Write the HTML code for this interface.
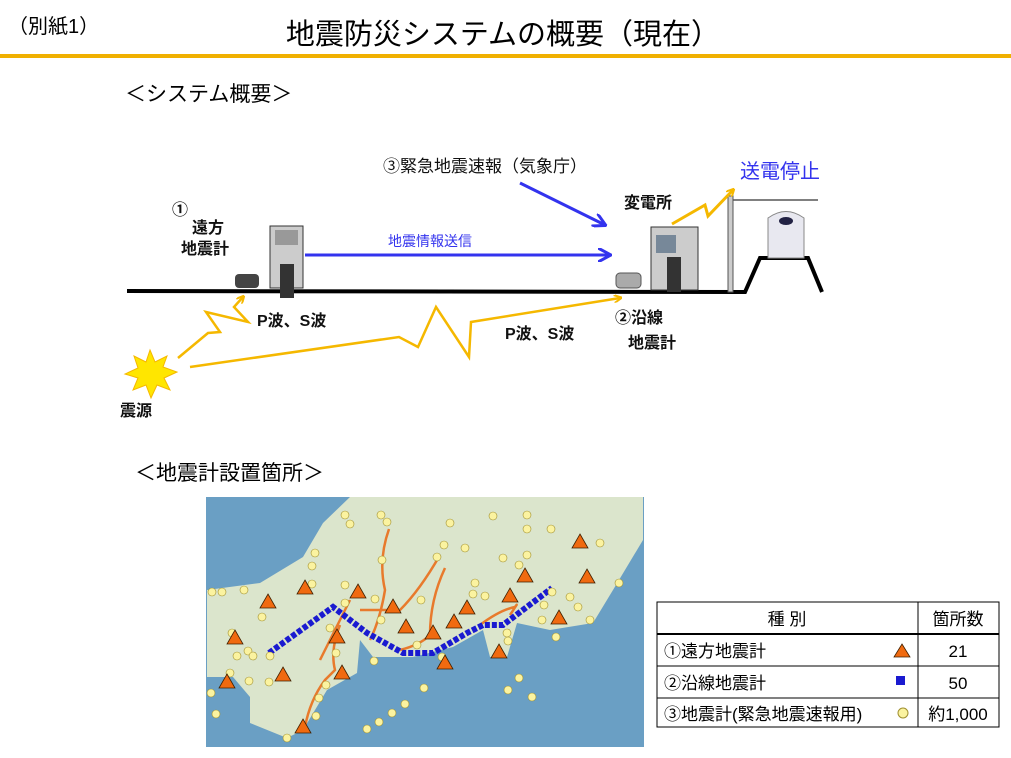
<!DOCTYPE html>
<html><head><meta charset="utf-8"><style>
body{margin:0;background:#fff;width:1011px;height:758px;overflow:hidden}
svg{position:absolute;left:0;top:0}
</style></head><body>
<svg width="1011" height="758" viewBox="0 0 1011 758" font-family="Liberation Sans, Noto Sans CJK JP, sans-serif">
<defs>
<marker id="ya" markerWidth="8" markerHeight="8" refX="6" refY="4" orient="auto" markerUnits="userSpaceOnUse"><path d="M0,0 L8,4 L0,8" fill="none" stroke="#f5b800" stroke-width="2"/></marker>
<marker id="ba" markerWidth="14" markerHeight="14" refX="12" refY="7" orient="auto" markerUnits="userSpaceOnUse"><path d="M0,0 L13,7 L0,14" fill="none" stroke="#3333ee" stroke-width="3"/></marker>
</defs>
<text x="8" y="33" font-size="20">（別紙1）</text>
<text x="503" y="44" font-size="29" text-anchor="middle">地震防災システムの概要（現在）</text>
<rect x="0" y="54" width="1011" height="4" fill="#f0b000"/>
<text x="125" y="101" font-size="21">＜システム概要＞</text>
<text x="135" y="480" font-size="21">＜地震計設置箇所＞</text>

<g font-size="16" font-weight="bold" fill="#111">
<text x="172" y="215">①</text>
<text x="192" y="233">遠方</text>
<text x="181" y="254">地震計</text>
<text x="257" y="326">P波、S波</text>
<text x="505" y="339">P波、S波</text>
<text x="615" y="323">②沿線</text>
<text x="628" y="348">地震計</text>
<text x="624" y="208">変電所</text>
<text x="120" y="416">震源</text>
<text x="383" y="172" font-weight="normal" font-size="17">③緊急地震速報（気象庁）</text>
</g>
<text x="388" y="246" font-size="14" fill="#3333ee">地震情報送信</text>
<text x="740" y="178" font-size="20" fill="#3333ee">送電停止</text>

<polyline points="127,291 745,292 760,258 808,258 822,292" fill="none" stroke="#000" stroke-width="4"/>
<line x1="733" y1="200" x2="818" y2="200" stroke="#000" stroke-width="1"/>
<rect x="728" y="196" width="5" height="96" fill="#ccc" stroke="#555"/>
<path d="M768,258 L768,218 Q786,205 804,218 L804,258 Z" fill="#e8e8f0" stroke="#888"/>
<ellipse cx="786" cy="221" rx="7" ry="4" fill="#224"/>
<rect x="270" y="226" width="33" height="62" fill="#ccc" stroke="#333"/>
<rect x="275" y="230" width="23" height="15" fill="#999"/>
<rect x="280" y="264" width="14" height="34" fill="#333"/>
<rect x="235" y="274" width="24" height="14" rx="4" fill="#444"/>
<rect x="651" y="227" width="47" height="63" fill="#ccc" stroke="#333"/>
<rect x="656" y="235" width="20" height="18" fill="#789"/>
<rect x="667" y="257" width="14" height="35" fill="#333"/>
<rect x="616" y="273" width="25" height="15" rx="4" fill="#aaa" stroke="#555"/>
<line x1="305" y1="255" x2="610" y2="255" stroke="#3333ee" stroke-width="3" marker-end="url(#ba)"/>
<line x1="520" y1="183" x2="605" y2="225" stroke="#3333ee" stroke-width="3" marker-end="url(#ba)"/>
<polyline points="178,358 208,333 220,332 206,312 248,322 234,307 243,297" fill="none" stroke="#f5b800" stroke-width="2.5" marker-end="url(#ya)"/>
<polyline points="190,367 399,337 418,347 436,307 469,357 471,322 620,298" fill="none" stroke="#f5b800" stroke-width="2.5" marker-end="url(#ya)"/>
<polyline points="672,224 705,205 708,216 733,190" fill="none" stroke="#f5b800" stroke-width="3" marker-end="url(#ya)"/>
<polygon points="150,350 155,362 167,356 163,367 177,372 164,378 170,390 157,385 151,398 146,385 133,390 138,378 125,374 138,368 134,356 146,362" fill="#ffe600" stroke="#f5b800"/>

<rect x="206" y="497" width="438" height="250" fill="#6a9fc4"/>
<polygon points="207,590 260,583 303,557 323,523 350,497 643,497 643,540 613,590 593,623 550,630 517,623 507,657 490,657 483,630 453,647 413,657 373,657 360,640 357,673 327,690 303,730 287,738 250,723 250,697 233,677 207,677" fill="#dbe5cc"/>
<g fill="none" stroke="#e87a2c" stroke-width="2.5">
<path d="M389,529 Q378,560 385,590 Q380,620 370,640"/>
<path d="M440,555 Q420,590 400,610 L360,610"/>
<path d="M445,568 Q430,600 430,635 Q420,645 400,650"/>
<path d="M340,625 Q330,650 335,670 L325,680 Q310,700 305,727"/>
<path d="M350,600 L330,640 L320,660"/>
<path d="M480,625 Q500,610 515,607 Q520,600 510,615"/>
</g>
<polyline points="269,653 333,607 367,633 403,653 433,653 467,633 483,625 503,625 552,588" fill="none" stroke="#1a1ad0" stroke-width="6" stroke-dasharray="5 2"/>
<g fill="#fbf3a0" stroke="#a09030" stroke-width="0.6">
<circle cx="345" cy="515" r="4"/><circle cx="381" cy="515" r="4"/><circle cx="387" cy="522" r="4"/><circle cx="350" cy="524" r="4"/><circle cx="450" cy="523" r="4"/><circle cx="493" cy="516" r="4"/><circle cx="527" cy="515" r="4"/><circle cx="527" cy="529" r="4"/><circle cx="551" cy="529" r="4"/><circle cx="600" cy="543" r="4"/><circle cx="315" cy="553" r="4"/><circle cx="312" cy="566" r="4"/><circle cx="382" cy="560" r="4"/><circle cx="444" cy="545" r="4"/><circle cx="465" cy="548" r="4"/><circle cx="437" cy="557" r="4"/><circle cx="503" cy="558" r="4"/><circle cx="527" cy="555" r="4"/><circle cx="519" cy="565" r="4"/><circle cx="212" cy="592" r="4"/><circle cx="222" cy="592" r="4"/><circle cx="244" cy="590" r="4"/><circle cx="312" cy="584" r="4"/><circle cx="345" cy="585" r="4"/><circle cx="375" cy="599" r="4"/><circle cx="421" cy="600" r="4"/><circle cx="475" cy="583" r="4"/><circle cx="473" cy="594" r="4"/><circle cx="485" cy="596" r="4"/><circle cx="552" cy="592" r="4"/><circle cx="570" cy="597" r="4"/><circle cx="619" cy="583" r="4"/><circle cx="262" cy="617" r="4"/><circle cx="345" cy="603" r="4"/><circle cx="381" cy="620" r="4"/><circle cx="330" cy="628" r="4"/><circle cx="544" cy="605" r="4"/><circle cx="578" cy="607" r="4"/><circle cx="542" cy="620" r="4"/><circle cx="590" cy="620" r="4"/><circle cx="232" cy="633" r="4"/><circle cx="248" cy="651" r="4"/><circle cx="253" cy="656" r="4"/><circle cx="237" cy="656" r="4"/><circle cx="270" cy="656" r="4"/><circle cx="336" cy="653" r="4"/><circle cx="417" cy="645" r="4"/><circle cx="507" cy="633" r="4"/><circle cx="508" cy="641" r="4"/><circle cx="556" cy="637" r="4"/><circle cx="374" cy="661" r="4"/><circle cx="442" cy="657" r="4"/><circle cx="230" cy="673" r="4"/><circle cx="249" cy="681" r="4"/><circle cx="269" cy="682" r="4"/><circle cx="326" cy="685" r="4"/><circle cx="319" cy="698" r="4"/><circle cx="424" cy="688" r="4"/><circle cx="519" cy="678" r="4"/><circle cx="508" cy="690" r="4"/><circle cx="532" cy="697" r="4"/><circle cx="211" cy="693" r="4"/><circle cx="216" cy="714" r="4"/><circle cx="316" cy="716" r="4"/><circle cx="405" cy="704" r="4"/><circle cx="392" cy="713" r="4"/><circle cx="379" cy="722" r="4"/><circle cx="367" cy="729" r="4"/><circle cx="287" cy="738" r="4"/>
</g>
<g fill="#f06a10" stroke="#402000" stroke-width="0.8">
<path d="M0,-8 L8,6 L-8,6 Z" transform="translate(268,602)"/>
<path d="M0,-8 L8,6 L-8,6 Z" transform="translate(305,588)"/><path d="M0,-8 L8,6 L-8,6 Z" transform="translate(358,592)"/><path d="M0,-8 L8,6 L-8,6 Z" transform="translate(235,638)"/><path d="M0,-8 L8,6 L-8,6 Z" transform="translate(227,682)"/><path d="M0,-8 L8,6 L-8,6 Z" transform="translate(283,675)"/><path d="M0,-8 L8,6 L-8,6 Z" transform="translate(337,637)"/><path d="M0,-8 L8,6 L-8,6 Z" transform="translate(342,673)"/><path d="M0,-8 L8,6 L-8,6 Z" transform="translate(303,727)"/><path d="M0,-8 L8,6 L-8,6 Z" transform="translate(393,607)"/><path d="M0,-8 L8,6 L-8,6 Z" transform="translate(406,627)"/><path d="M0,-8 L8,6 L-8,6 Z" transform="translate(433,633)"/><path d="M0,-8 L8,6 L-8,6 Z" transform="translate(454,622)"/><path d="M0,-8 L8,6 L-8,6 Z" transform="translate(467,608)"/><path d="M0,-8 L8,6 L-8,6 Z" transform="translate(445,663)"/><path d="M0,-8 L8,6 L-8,6 Z" transform="translate(510,596)"/><path d="M0,-8 L8,6 L-8,6 Z" transform="translate(525,576)"/><path d="M0,-8 L8,6 L-8,6 Z" transform="translate(580,542)"/><path d="M0,-8 L8,6 L-8,6 Z" transform="translate(587,577)"/><path d="M0,-8 L8,6 L-8,6 Z" transform="translate(559,618)"/><path d="M0,-8 L8,6 L-8,6 Z" transform="translate(499,652)"/>
</g>

<g stroke="#000" stroke-width="1" fill="none">
<rect x="657" y="602" width="342" height="125"/>
<line x1="918" y1="602" x2="918" y2="727"/>
<line x1="657" y1="634" x2="999" y2="634" stroke-width="2"/>
<line x1="657" y1="666" x2="999" y2="666"/>
<line x1="657" y1="698" x2="999" y2="698"/>
</g>
<g font-size="17" fill="#000">
<text x="787" y="625" text-anchor="middle">種 別</text>
<text x="958" y="625" text-anchor="middle">箇所数</text>
<text x="664" y="657">①遠方地震計</text>
<text x="664" y="689">②沿線地震計</text>
<text x="664" y="720">③地震計(緊急地震速報用)</text>
<text x="958" y="657" text-anchor="middle">21</text>
<text x="958" y="689" text-anchor="middle">50</text>
<text x="958" y="720" text-anchor="middle">約1,000</text>
</g>
<path d="M902,644 L910,657 L894,657 Z" fill="#f06a10" stroke="#402000" stroke-width="0.8"/>
<rect x="896" y="676" width="9" height="9" fill="#1a1ad0"/>
<circle cx="903" cy="713" r="5" fill="#fbf3a0" stroke="#a09030"/>
</svg>
</body></html>
